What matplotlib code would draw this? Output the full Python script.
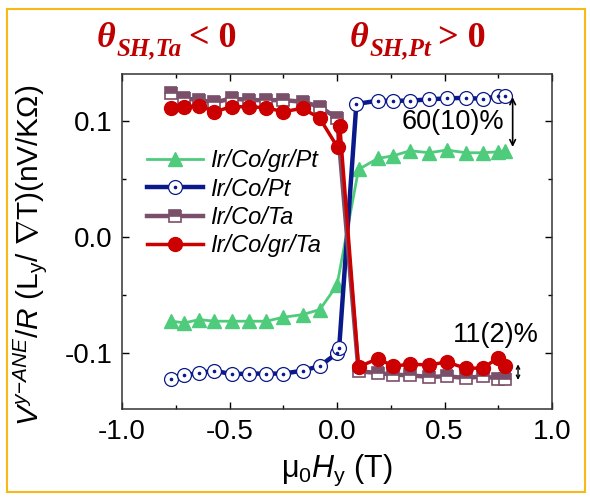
import matplotlib
matplotlib.use('Agg')
import matplotlib.pyplot as plt
from matplotlib.patches import Rectangle
from matplotlib.legend_handler import HandlerTuple
from matplotlib.ticker import MultipleLocator, FormatStrFormatter

plt.rcParams['font.family'] = ['Liberation Sans', 'DejaVu Sans']
plt.rcParams['axes.unicode_minus'] = False
plt.rcParams['mathtext.fontset'] = 'custom'
plt.rcParams['mathtext.rm'] = 'Liberation Sans'
plt.rcParams['mathtext.it'] = 'Liberation Sans:italic'
plt.rcParams['mathtext.bf'] = 'Liberation Sans:bold'

# поле mu0*Hy (T)
h_left = [-0.77, -0.71, -0.64, -0.57, -0.49, -0.41, -0.33, -0.25, -0.16, -0.08]
h_right = [0.10, 0.19, 0.26, 0.34, 0.43, 0.51, 0.60, 0.68, 0.75, 0.78]

grpt_h = h_left + [0.0] + h_right
grpt_v = [-0.0724, -0.0738, -0.071, -0.0724, -0.0724, -0.0724, -0.0724, -0.069, -0.0667, -0.0624,
          -0.0414,
          0.0583, 0.0678, 0.070, 0.0744, 0.0727, 0.075, 0.0727, 0.0727, 0.0735, 0.0744]

copt_h = h_left + [0.0, 0.01] + [0.09] + h_right[1:]
copt_v = [-0.122, -0.119, -0.117, -0.115, -0.118, -0.1175, -0.1175, -0.1175, -0.115, -0.111,
          -0.100, -0.0955,
          0.1147, 0.1175, 0.1175, 0.1175, 0.1187, 0.1195, 0.120, 0.119, 0.1216, 0.1216]

cota_h = h_left + [0.0] + h_right
cota_v = [0.124, 0.1195, 0.118, 0.116, 0.1195, 0.118, 0.118, 0.118, 0.1166, 0.1123,
          0.1025,
          -0.1155, -0.117, -0.1184, -0.119, -0.1204, -0.1198, -0.1213, -0.1198, -0.1218, -0.1218]

grta_h = h_left + [0.003, 0.013] + h_right
grta_v = [0.1115, 0.1123, 0.1132, 0.108, 0.1123, 0.1123, 0.1115, 0.108, 0.111, 0.1023,
          0.0773, 0.096,
          -0.1118, -0.1046, -0.111, -0.1095, -0.110, -0.1075, -0.113, -0.1127, -0.1037, -0.111]

green = '#4fcb7c'
navy = '#0b1a8a'
mauve = '#7a4f69'
red = '#cc0000'
title_red = '#c00000'

fig = plt.figure(figsize=(5.9, 4.98), dpi=100)
ax = fig.add_axes([0.2068, 0.1787, 0.7288, 0.6727])

l1, = ax.plot(grpt_h, grpt_v, '-', color=green, lw=2, marker='^', ms=10,
              mec=green, mfc=green)
l2, = ax.plot(copt_h, copt_v, '-', color=navy, lw=3.2, marker='o', ms=10,
              mec=navy, mfc='white', mew=0.9)
d2, = ax.plot(copt_h, copt_v, ls='none', marker='o', ms=1.6, color=navy)
l3, = ax.plot(cota_h, cota_v, '-', color=mauve, lw=3.2, marker='s', ms=9,
              mec=mauve, mfc=mauve, mfcalt='white', fillstyle='top', mew=1.2)
l4, = ax.plot(grta_h, grta_v, '-', color=red, lw=2.5, marker='o', ms=10,
              mec=red, mfc=red)

ax.set_xlim(-1.0, 1.0)
ax.set_ylim(-0.148, 0.1405)
ax.xaxis.set_major_locator(MultipleLocator(0.5))
ax.xaxis.set_minor_locator(MultipleLocator(0.25))
ax.yaxis.set_major_locator(MultipleLocator(0.1))
ax.yaxis.set_minor_locator(MultipleLocator(0.05))
ax.xaxis.set_major_formatter(FormatStrFormatter('%.1f'))
ax.yaxis.set_major_formatter(FormatStrFormatter('%.1f'))
ax.tick_params(which='both', direction='in', top=True, right=True, labelsize=20, width=1)
ax.tick_params(which='major', length=5, pad=7)
ax.tick_params(which='minor', length=3)
for s in ax.spines.values():
    s.set_linewidth(1.1)
    s.set_color('#333333')

ax.set_xlabel(r'μ$_0H_{\mathrm{y}}$ (T)', fontsize=22, labelpad=6)
ax.set_ylabel(r'$V^{y{-}ANE}/R$ (L$_{\mathrm{y}}$/ $\nabla$T)(nV/KΩ)', fontsize=21.5, labelpad=1)
ax.yaxis.set_label_coords(-0.17, 0.46)

leg = ax.legend([l1, (l2, d2), l3, l4],
                ['Ir/Co/gr/Pt', 'Ir/Co/Pt', 'Ir/Co/Ta', 'Ir/Co/gr/Ta'],
                handler_map={tuple: HandlerTuple(ndivide=1, pad=0)},
                loc='upper left', bbox_to_anchor=(0.03, 0.81), frameon=False,
                prop={'style': 'italic', 'size': 17}, borderpad=0,
                handlelength=2.4, handletextpad=0.3, labelspacing=0.22)

# разница амплитуд
ax.annotate('', xy=(0.817, 0.0776), xytext=(0.817, 0.1205),
            arrowprops=dict(arrowstyle='<->', color='black', lw=1.2, shrinkA=0, shrinkB=0))
ax.text(0.30, 0.099, '60(10)%', fontsize=19.5, va='center', ha='left')
ax.annotate('', xy=(0.842, -0.123), xytext=(0.842, -0.1095),
            arrowprops=dict(arrowstyle='<->', color='black', lw=1.0, shrinkA=0, shrinkB=0,
                            mutation_scale=6))
ax.text(0.54, -0.084, '11(2)%', fontsize=19.5, va='center', ha='left')


# знак спинового угла Холла: θ, индекс и неравенство отдельными кусками
def sign_label(x, sub, rel):
    kw = dict(color=title_red, family='Liberation Serif', weight='bold')
    t1 = fig.text(x, 1 - 47 / 498, 'θ', style='italic', fontsize=26, va='baseline', **kw)
    t2 = ax.annotate(sub, xy=(1, 0), xycoords=t1, xytext=(0.5, -4), textcoords='offset points',
                     style='italic', fontsize=18, va='bottom', ha='left', annotation_clip=False, **kw)
    ax.annotate(rel, xy=(1, 0), xycoords=(t2, t1), xytext=(5, 0), textcoords='offset points',
                fontsize=26, va='bottom', ha='left', annotation_clip=False, **kw)


sign_label(97 / 590, 'SH,Ta', '< 0')
sign_label(350 / 590, 'SH,Pt', '> 0')

fig.patches.append(Rectangle((7 / 590, 1 - 492 / 498), 578 / 590, 483 / 498,
                             transform=fig.transFigure, fill=False,
                             edgecolor='#f7b818', lw=1.5))

fig.savefig('out.png', dpi=100)
